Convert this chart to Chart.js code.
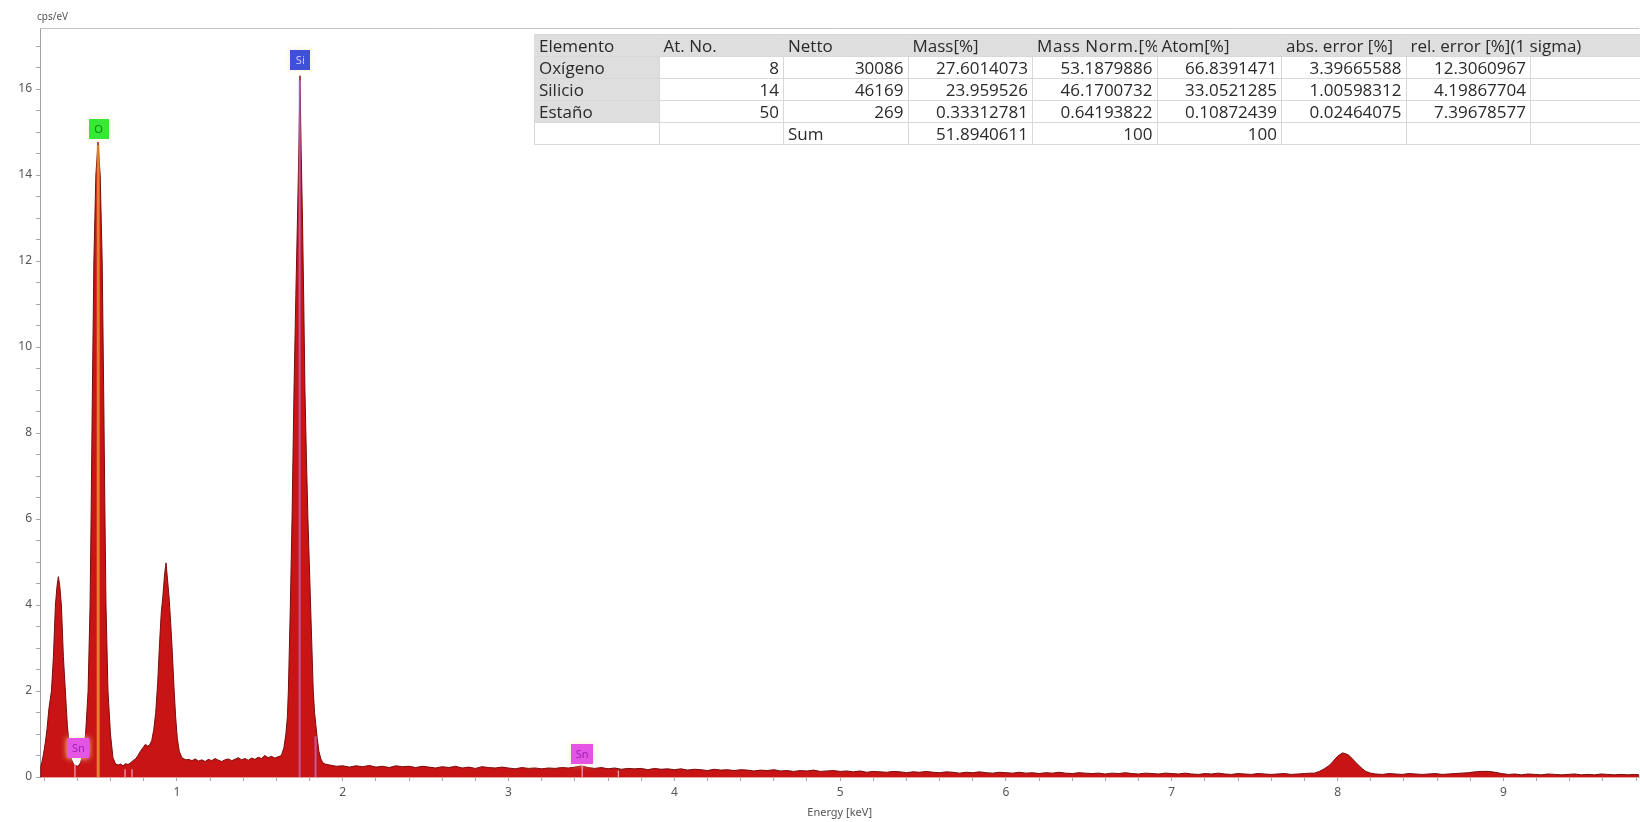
<!DOCTYPE html>
<html><head><meta charset="utf-8">
<script src="https://cdn.jsdelivr.net/npm/chart.js@4.4.0/dist/chart.umd.min.js"></script>
<style>
html,body{margin:0;padding:0;background:#fff;overflow:hidden;}
#wrap{position:relative;width:1640px;height:822px;overflow:hidden;background:#fff;}
#c{position:absolute;left:0;top:0;}
#tbl{position:absolute;left:534px;top:34px;width:1120.5px;border-collapse:collapse;table-layout:fixed;font-family:'Open Sans',sans-serif;font-size:17px;color:#2a2a2a;}
#tbl td{height:22px;padding:0 4px;border:1px solid #d8d8d8;white-space:nowrap;overflow:hidden;background:#fff;line-height:21px;box-sizing:border-box;}
#tbl tr.hdr td{background:#dedede;border-left-color:#dedede;border-right-color:#dedede;}
#tbl td.elem{background:#dedede;}
#tbl td.num{text-align:right;}
#tbl td.spill{overflow:visible;}
#tbl td.wide{letter-spacing:0.6px;}
</style></head>
<body>
<div id="wrap">
<canvas id="c" width="1640" height="822"></canvas>
<table id="tbl"></table>
</div>
<script>
// ---------------- data ----------------
const spectrumEnergy = [
 0.174,0.179,0.186,0.196,0.206,0.216,0.228,0.243,0.255,0.267,0.277,0.285,0.293,0.303,0.315,0.327,0.339,0.351,0.363,0.376,0.390,0.404,0.418,
 0.434,0.449,0.464,0.476,0.482,0.490,0.499,0.511,0.524,0.537,0.549,0.558,0.566,0.572,0.584,0.599,0.614,0.630,
 0.645,0.660,0.675,0.690,0.705,0.720,0.735,0.750,0.765,0.780,0.795,0.810,0.822,0.835,0.848,0.860,0.872,0.884,0.895,0.905,0.915,0.925,0.934,0.943,0.952,0.962,0.972,0.982,0.992,1.002,1.014,1.028,1.042,1.056,
 1.07,1.09,1.11,1.13,1.15,1.17,1.19,1.21,1.23,1.25,1.27,1.29,1.31,1.33,1.35,1.37,1.39,1.41,1.43,1.45,1.47,1.49,1.51,1.53,1.55,1.57,1.59,1.61,
 1.630,1.645,1.657,1.666,1.672,1.678,1.684,1.694,1.706,1.717,1.727,1.735,1.742,1.749,1.757,1.765,1.772,1.781,1.790,1.798,1.806,1.814,1.822,1.830,1.838,1.846,1.856,1.868,1.880,1.895,
 1.92,1.96,2.00,2.04,2.08,2.12,2.16,2.20,2.24,2.28,2.32,2.36,2.40,
 2.44,2.48,2.52,2.56,2.60,2.64,2.68,2.72,2.76,2.80,2.84,2.88,2.92,2.96,
 3.00,3.04,3.08,3.12,3.16,3.20,3.24,3.28,3.32,3.36,3.40,3.44,3.48,
 3.52,3.56,3.60,3.64,3.68,3.72,3.76,3.80,3.84,3.88,3.92,3.96,
 4.00,4.04,4.08,4.12,4.16,4.20,4.24,4.28,4.32,4.36,4.40,4.44,4.48,4.52,4.56,4.60,4.64,4.68,4.72,4.76,4.80,4.84,4.88,4.92,4.96,
 5.00,5.04,5.08,5.12,5.16,5.20,5.24,5.28,5.32,5.36,5.40,5.44,5.48,5.52,5.56,5.60,5.64,5.68,5.72,5.76,5.80,5.84,5.88,5.92,5.96,
 6.00,6.04,6.08,6.12,6.16,6.20,6.24,6.28,6.32,6.36,6.40,6.44,6.48,6.52,6.56,6.60,6.64,6.68,6.72,6.76,6.80,6.84,6.88,6.92,6.96,
 7.00,7.04,7.08,7.12,7.16,7.20,7.24,7.28,7.32,7.36,7.40,7.44,7.48,7.52,7.56,7.60,7.64,7.68,7.72,7.76,7.80,7.84,
 7.86,7.89,7.92,7.95,7.97,7.99,8.01,8.03,8.05,8.07,8.09,8.11,8.13,8.15,8.17,8.20,8.23,
 8.27,8.31,8.35,8.39,8.43,8.47,8.51,8.55,8.59,8.63,8.67,8.71,8.75,
 8.79,8.83,8.87,8.91,8.95,8.99,
 9.03,9.07,9.11,9.15,9.19,9.23,9.27,9.31,9.35,9.39,9.43,9.47,9.51,9.55,9.59,9.63,9.67,9.71,9.75,9.79,9.82
];
const spectrumCps = [
 0,0.25,0.35,0.55,0.8,1.1,1.6,2.0,2.8,4.0,4.45,4.66,4.45,4.0,2.8,2.0,1.2,0.7,0.42,0.3,0.26,0.25,0.33,
 0.55,1.0,2.0,4.0,6.0,9.0,12.0,14.0,14.77,14.0,12.0,9.0,6.0,4.0,2.0,1.0,0.45,0.3,
 0.28,0.3,0.26,0.31,0.29,0.33,0.38,0.42,0.5,0.6,0.68,0.76,0.72,0.74,0.85,1.1,1.5,2.2,3.1,3.8,4.2,4.7,4.98,4.6,4.2,3.6,2.9,2.1,1.4,0.9,0.6,0.46,0.42,0.4,
 0.41,0.38,0.42,0.37,0.4,0.36,0.41,0.38,0.43,0.39,0.36,0.4,0.42,0.38,0.41,0.45,0.4,0.43,0.39,0.44,0.41,0.46,0.43,0.5,0.45,0.48,0.44,0.47,
 0.5,0.68,1.0,1.4,2.0,3.0,4.0,6.0,9.0,11.2,13.0,14.6,16.31,14.6,13.0,11.0,9.0,7.4,6.0,5.0,4.0,3.0,2.0,1.5,1.2,0.9,0.6,0.42,0.33,0.3,
 0.28,0.25,0.26,0.23,0.26,0.24,0.27,0.23,0.25,0.22,0.26,0.24,0.25,
 0.22,0.25,0.23,0.21,0.24,0.22,0.25,0.21,0.23,0.2,0.24,0.22,0.21,0.23,
 0.21,0.19,0.22,0.2,0.21,0.19,0.21,0.2,0.22,0.21,0.23,0.26,0.22,
 0.2,0.22,0.19,0.21,0.18,0.2,0.19,0.2,0.17,0.2,0.18,0.19,
 0.17,0.19,0.16,0.18,0.17,0.15,0.18,0.16,0.17,0.15,0.17,0.16,0.14,0.16,0.15,0.17,0.14,0.15,0.13,0.15,0.14,0.16,0.13,0.14,0.15,
 0.13,0.14,0.12,0.14,0.11,0.13,0.12,0.11,0.13,0.12,0.1,0.12,0.11,0.13,0.11,0.1,0.12,0.11,0.09,0.11,0.1,0.12,0.1,0.09,0.11,
 0.1,0.09,0.11,0.09,0.1,0.08,0.1,0.09,0.11,0.09,0.08,0.1,0.09,0.08,0.09,0.07,0.09,0.08,0.1,0.08,0.07,0.09,0.08,0.07,0.09,
 0.08,0.07,0.09,0.07,0.06,0.08,0.07,0.09,0.07,0.06,0.08,0.07,0.06,0.08,0.07,0.06,0.07,0.08,0.06,0.07,0.08,0.09,
 0.09,0.13,0.19,0.27,0.35,0.44,0.51,0.56,0.54,0.5,0.42,0.34,0.26,0.19,0.13,0.09,0.07,
 0.06,0.08,0.07,0.06,0.08,0.07,0.06,0.07,0.08,0.06,0.07,0.08,0.09,
 0.1,0.12,0.13,0.13,0.11,0.08,
 0.06,0.07,0.05,0.07,0.06,0.05,0.07,0.06,0.05,0.06,0.07,0.05,0.06,0.05,0.07,0.06,0.05,0.06,0.05,0.06,0.05
];

// element marker lines (energy keV, height cps/eV)
const oLineEnergy = [0.525];
const oLineHeight = [14.7];
const siLineEnergy = [1.740, 1.836];
const siLineHeight = [16.2, 0.95];
const snLineEnergy = [0.385, 0.687, 0.729, 3.444, 3.662];
const snLineHeight = [0.3, 0.18, 0.18, 0.3, 0.15];

// element label boxes
const labelText = ['O', 'Si', 'Sn', 'Sn'];
const labelEnergy = [0.527, 1.744, 0.406, 3.444];
const labelBase = [14.84, 16.45, 0.45, 0.31];
const labelFill = ['#38e838', '#3f4fd6', '#e455e4', '#e455e4'];
const labelInk = ['#0f8a0f', '#c8ccff', '#a020b8', '#a020b8'];

// axis ticks
const xMin = 0.174, xMax = 9.82;
const yMin = 0, yMax = 17.42;
const xMajorTicks = [1, 2, 3, 4, 5, 6, 7, 8, 9];
const yMajorTicks = [0, 2, 4, 6, 8, 10, 12, 14, 16];
const xMinorStep = 0.2, yMinorStep = 0.5;

// results table
const tableHeader = ['Elemento', 'At. No.', 'Netto', 'Mass[%]', 'Mass Norm.[%]', 'Atom[%]', 'abs. error [%]', 'rel. error [%](1 sigma)', ''];
const tableRows = [
  ['Oxígeno', '8', '30086', '27.6014073', '53.1879886', '66.8391471', '3.39665588', '12.3060967', ''],
  ['Silicio', '14', '46169', '23.959526', '46.1700732', '33.0521285', '1.00598312', '4.19867704', ''],
  ['Estaño', '50', '269', '0.33312781', '0.64193822', '0.10872439', '0.02464075', '7.39678577', ''],
  ['', '', 'Sum', '51.8940611', '100', '100', '', '', '']
];

// ---------------- table ----------------
(function buildTable(){
  const t = document.getElementById('tbl');
  const cg = document.createElement('colgroup');
  tableHeader.forEach(()=>{ const c=document.createElement('col'); c.style.width='124.5px'; cg.appendChild(c); });
  t.appendChild(cg);
  const hr = document.createElement('tr'); hr.className='hdr';
  tableHeader.forEach((h,i)=>{ const td=document.createElement('td'); td.textContent=h; if(i===7) td.className='spill'; if(i===4) td.className='wide'; hr.appendChild(td); });
  t.appendChild(hr);
  tableRows.forEach((row,r)=>{
    const tr=document.createElement('tr');
    row.forEach((v,i)=>{
      const td=document.createElement('td'); td.textContent=v;
      const cls=[];
      if(i===0 && r<3) cls.push('elem');
      if(i>0 && v!=='Sum') cls.push('num');
      td.className=cls.join(' ');
      tr.appendChild(td);
    });
    t.appendChild(tr);
  });
})();

// ---------------- chart ----------------
function segs(es, hs){
  const pts=[];
  es.forEach((e,i)=>{ pts.push({x:e,y:0},{x:e,y:hs[i]},{x:e,y:null}); });
  return pts;
}
const xTickVals=[]; for(let k=1; k*xMinorStep<=xMax; k++){ const v=Math.round(k*xMinorStep*10)/10; if(v>=xMin) xTickVals.push(v); }
const yTickVals=[]; for(let k=0; k*yMinorStep<=yMax; k++){ yTickVals.push(k*yMinorStep); }

const tickFont = {family:"'Noto Sans', sans-serif", size:12};
const deco = {
  id:'deco',
  afterDatasetsDraw(chart){
    const ctx=chart.ctx, xs=chart.scales.x, ys=chart.scales.y;
    ctx.save();
    labelText.forEach((t,i)=>{
      const cx=xs.getPixelForValue(labelEnergy[i]);
      const by=ys.getPixelForValue(labelBase[i]);
      const w = t==='Sn' ? 22 : 20, h=20;
      ctx.shadowColor='rgba(255,235,200,0.9)'; ctx.shadowBlur=6;
      ctx.fillStyle=labelFill[i];
      ctx.fillRect(Math.round(cx-w/2), Math.round(by-h), w, h);
      ctx.shadowBlur=0;
      ctx.fillStyle=labelInk[i];
      ctx.font="11px 'Noto Sans', sans-serif";
      ctx.textAlign='center'; ctx.textBaseline='middle';
      ctx.fillText(t, cx, by-h/2+1);
    });
    ctx.restore();
  },
  afterDraw(chart){
    const ctx=chart.ctx, a=chart.chartArea;
    ctx.save();
    ctx.strokeStyle='#c4c4c4'; ctx.lineWidth=1;
    ctx.beginPath(); ctx.moveTo(a.left, a.top+0.5); ctx.lineTo(a.right, a.top+0.5); ctx.stroke();
    ctx.fillStyle='#555';
    ctx.font="10px 'Noto Sans', sans-serif";
    ctx.textAlign='left'; ctx.textBaseline='middle';
    ctx.fillText('cps/eV', a.left-3, a.top-11);
    ctx.restore();
  }
};

new Chart(document.getElementById('c'), {
  type:'line',
  data:{datasets:[
    {data:segs(oLineEnergy,oLineHeight), borderColor:'rgba(240,160,60,0.75)', borderWidth:3, pointRadius:0, fill:false, spanGaps:false, order:0},
    {data:segs(siLineEnergy,siLineHeight), borderColor:'rgba(190,120,220,0.7)', borderWidth:2, pointRadius:0, fill:false, spanGaps:false, order:0},
    {data:segs(snLineEnergy,snLineHeight), borderColor:'rgba(255,200,240,0.95)', borderWidth:1, pointRadius:0, fill:false, spanGaps:false, order:0},
    {data:spectrumEnergy.map((e,i)=>({x:e,y:spectrumCps[i]})), borderColor:'#7a0c0c', borderWidth:1, backgroundColor:'#c81414', fill:'origin', pointRadius:0, tension:0, order:5}
  ]},
  options:{
    responsive:false, animation:false, events:[],
    layout:{padding:{top:28,left:0,right:0,bottom:0}},
    plugins:{legend:{display:false}, tooltip:{enabled:false}},
    scales:{
      x:{type:'linear', min:xMin, max:xMax,
         afterFit(s){ s.height=45; },
         afterBuildTicks(s){ s.ticks = xTickVals.map(v=>({value:v})); },
         ticks:{autoSkip:false, maxRotation:0, padding:4, color:'#555', font:tickFont,
                callback:(v)=> xMajorTicks.includes(Math.round(v*1000)/1000) ? String(Math.round(v)) : ''},
         grid:{display:true, drawOnChartArea:false, drawTicks:true, tickLength:4, color:'#a8a8a8'},
         border:{display:true, color:'#e6a0a0'},
         title:{display:true, text:'Energy [keV]', color:'#555', font:{family:"'Noto Sans', sans-serif", size:11}, padding:{top:0,bottom:3}}
      },
      y:{min:yMin, max:yMax,
         afterFit(s){ s.width=40; },
         afterBuildTicks(s){ s.ticks = yTickVals.map(v=>({value:v})); },
         ticks:{autoSkip:false, padding:4, color:'#555', font:tickFont,
                callback:(v)=> yMajorTicks.includes(v) ? String(v) : ''},
         grid:{display:true, drawOnChartArea:false, drawTicks:true, tickLength:4, color:'#a8a8a8'},
         border:{display:true, color:'#a0a0a0'}
      }
    }
  },
  plugins:[deco]
});
</script>
</body></html>
